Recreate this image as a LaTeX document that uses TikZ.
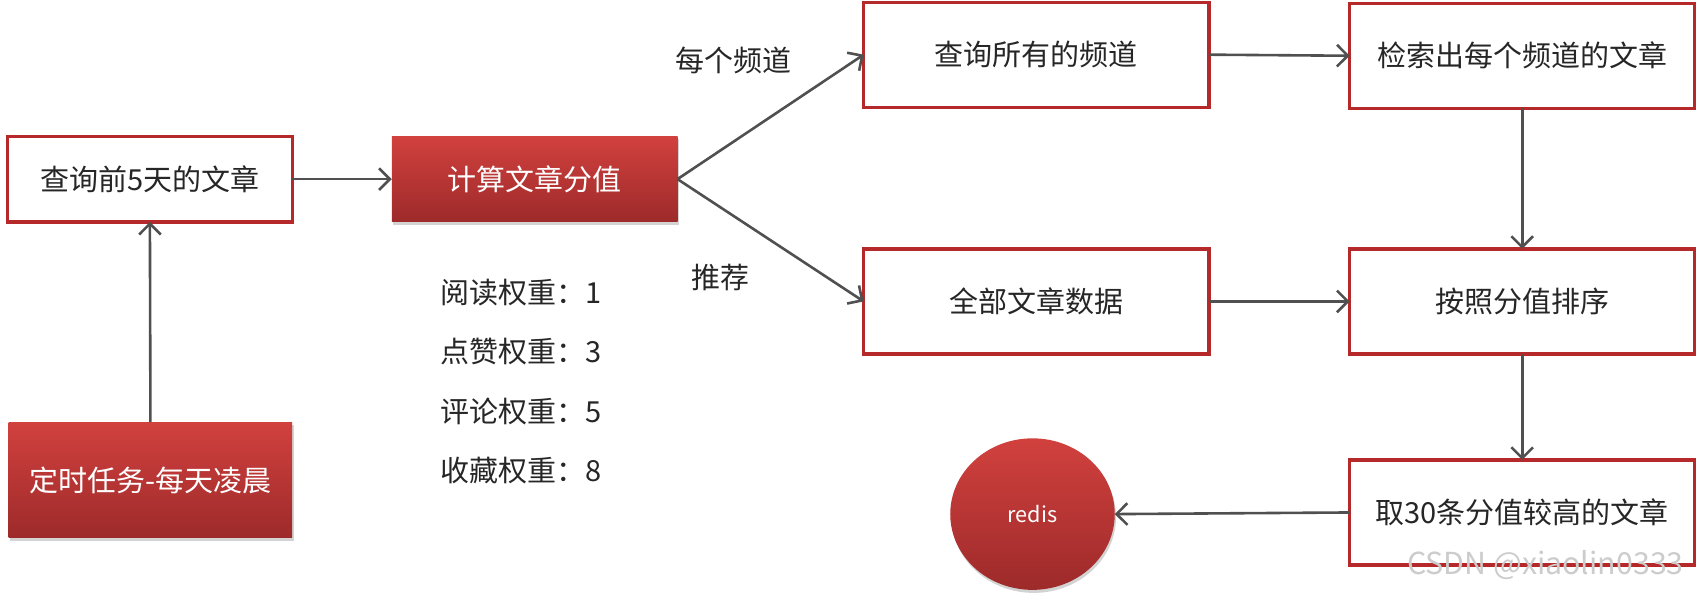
\documentclass[tikz,border=0pt]{standalone}
\usepackage{fontspec}
\setmainfont{Noto Sans CJK SC}
\usetikzlibrary{arrows.meta,shadows,shapes.geometric}
\definecolor{bordred}{HTML}{B5292A}
\definecolor{redtop}{HTML}{D1413E}
\definecolor{redbot}{HTML}{9D2A2A}
\definecolor{arrowgray}{HTML}{505050}
\begin{document}
\begin{tikzpicture}[x=0.5pt,y=-0.5pt,
  every node/.style={inner sep=0pt,outer sep=0pt},
  whitebox/.style={draw=bordred,line width=1.5pt,fill=white,text=black!85,font=\fontsize{13.4pt}{16pt}\selectfont},
  redbox/.style={top color=redtop,bottom color=redbot,draw=none,text=white,font=\fontsize{13.4pt}{16pt}\selectfont,
    drop shadow={shadow xshift=0.6pt,shadow yshift=-1.4pt,opacity=0.35}},
  plaintext/.style={text=black!85,font=\fontsize{13.4pt}{16pt}\selectfont},
  conn/.style={draw=arrowgray,line width=1.2pt,-{Straight Barb[length=5pt,width=10pt,line width=1.2pt]}}]
\useasboundingbox (0,0) rectangle (1568,554);
% nodes
\node[whitebox,minimum width=131.5pt,minimum height=39.5pt] (A) at (138.5,165.5) {查询前5天的文章};
\node[redbox,minimum width=132pt,minimum height=39.5pt] (B) at (494,165.5) {计算文章分值};
\node[redbox,minimum width=131pt,minimum height=53.5pt] (C) at (139,443.5) {定时任务-每天凌晨};
\node[whitebox,minimum width=159.5pt,minimum height=48.5pt] (D) at (957.5,50.5) {查询所有的频道};
\node[whitebox,minimum width=159.5pt,minimum height=48.5pt] (F) at (1406.5,51.5) {检索出每个频道的文章};
\node[whitebox,minimum width=159.5pt,minimum height=48.5pt] (E) at (957.5,278.5) {全部文章数据};
\node[whitebox,minimum width=159.5pt,minimum height=48.5pt] (G) at (1406.5,278.5) {按照分值排序};
\node[whitebox,minimum width=159.5pt,minimum height=48.5pt] (H) at (1406.5,473.5) {取30条分值较高的文章};
\node[redbox,ellipse,minimum width=76pt,minimum height=70pt,font=\fontsize{10pt}{12pt}\selectfont] (R) at (954,475) {redis};
% labels
\node[plaintext,anchor=west] (w1) at (407,270) {阅读权重：1};
\node[plaintext,anchor=west] (w2) at (407,325) {点赞权重：3};
\node[plaintext,anchor=west] (w3) at (407,380) {评论权重：5};
\node[plaintext,anchor=west] (w4) at (407,435) {收藏权重：8};
\node[plaintext] (l1) at (678,56) {每个频道};
\node[plaintext] (l2) at (666,256) {推荐};
\node[text=black!20,font=\fontsize{14pt}{16pt}\selectfont] (wm) at (1428,522) {CSDN @xiaolin0333};
% connectors
\draw[conn] (C.north) -- (A.south);
\draw[conn] (A.east) -- (B.west);
\draw[conn] (B.east) -- (D.west);
\draw[conn] (B.east) -- (E.west);
\draw[conn] (D.east) -- (F.west);
\draw[conn] (E.east) -- (G.west);
\draw[conn] (F.south) -- (G.north);
\draw[conn] (G.south) -- (H.north);
\draw[conn] (H.west) -- (R.east);
\end{tikzpicture}
\end{document}
